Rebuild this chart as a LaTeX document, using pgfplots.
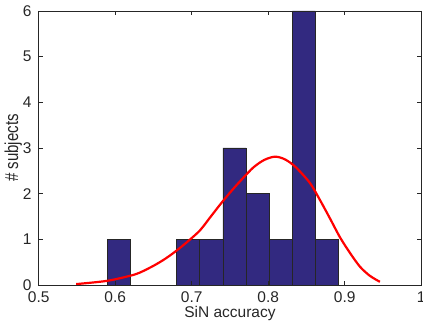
\documentclass[border=0pt]{standalone}
\usepackage{fontspec}
\setmainfont{Liberation Sans}
\usepackage{pgfplots}
\pgfplotsset{compat=1.18}
\definecolor{barblue}{RGB}{50,41,128}
\definecolor{axgray}{RGB}{38,38,38}
\begin{document}
\fontsize{15.5}{18}\selectfont
\begin{tikzpicture}
\useasboundingbox (-38.7pt,-39pt) rectangle (384.3pt,285pt);
\begin{axis}[
  at={(0,0)}, anchor=south west,
  scale only axis, width=382.5pt, height=274pt,
  xmin=0.5, xmax=1, ymin=0, ymax=6,
  xtick={0.5,0.6,0.7,0.8,0.9,1},
  xticklabels={0.5,0.6,0.7,0.8,0.9,1},
  ytick={0,1,2,3,4,5,6},
  tick align=inside, major tick length=4pt,
  axis line style={axgray, line width=0.8pt},
  tick style={axgray, line width=0.6pt},
  /pgf/number format/assume math mode=true,
  ticklabel style={font=\fontsize{15.5}{18}\selectfont, text=axgray},
  yticklabel style={xshift=-1.8pt},
  xticklabel style={yshift=-1pt},
  xlabel={SiN accuracy}, ylabel={\# subjects},
  label style={font=\fontsize{15.5}{18}\selectfont, text=axgray},
  xlabel style={at={(axis description cs:0.5,-0.1033)}, anchor=center},
  ylabel style={at={(axis description cs:-0.0664,0.5)}, anchor=center, font=\fontsize{15}{18}\selectfont, yscale=1.25},
  axis on top,
]
\addplot[ybar interval, fill=barblue, draw=axgray, line width=0.8pt] coordinates {
  (0.5897,1) (0.6199,0) (0.6502,0) (0.6804,1) (0.7106,1) (0.7409,3)
  (0.7711,2) (0.8014,1) (0.8316,6) (0.8618,1) (0.8921,0)
};
\addplot[red, line width=2.2pt, smooth] coordinates {
  (0.549,0.02) (0.589,0.09) (0.619,0.20) (0.632,0.27) (0.650,0.42)
  (0.665,0.57) (0.680,0.75) (0.696,0.97) (0.711,1.20) (0.725,1.50)
  (0.739,1.80) (0.753,2.08) (0.767,2.34) (0.781,2.58) (0.795,2.74)
  (0.809,2.81) (0.822,2.75) (0.836,2.58) (0.8547,2.23)
  (0.8677,1.86) (0.881,1.45) (0.894,1.04) (0.907,0.70) (0.92,0.40)
  (0.933,0.20) (0.946,0.07)
};
\end{axis}
\end{tikzpicture}
\end{document}
